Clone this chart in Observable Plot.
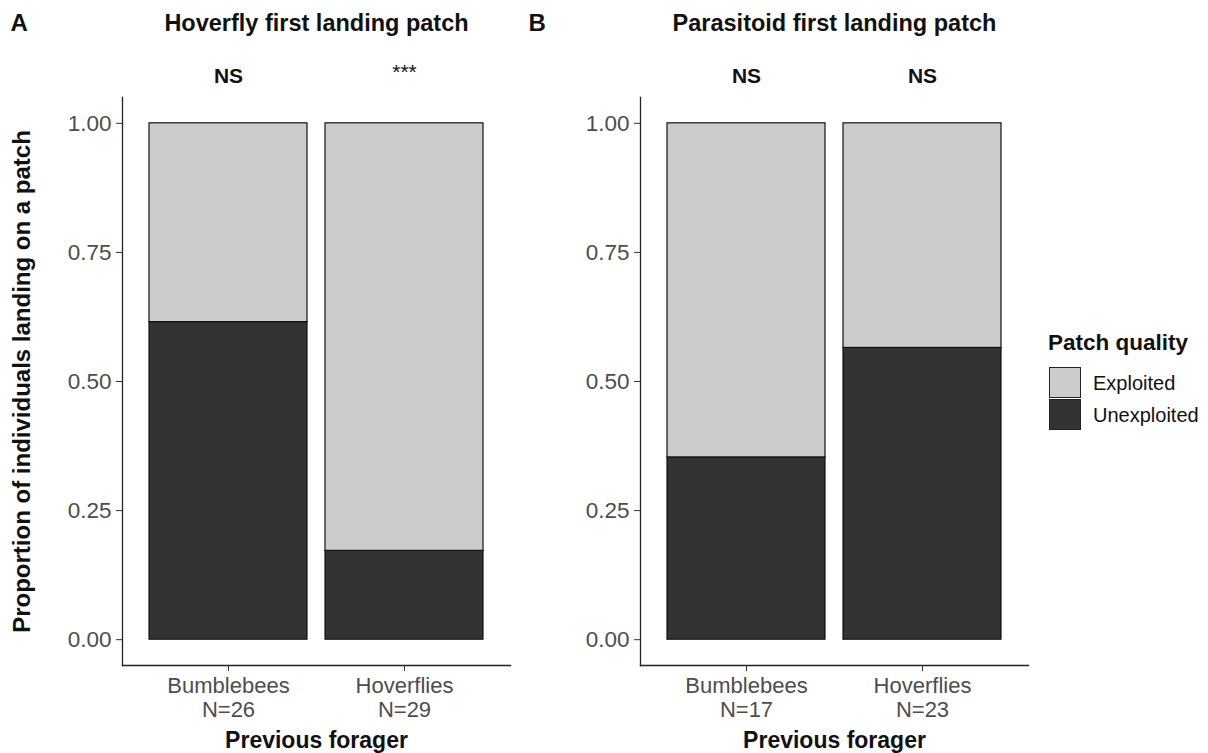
<!DOCTYPE html>
<html>
<head>
<meta charset="utf-8">
<script src="https://cdn.jsdelivr.net/npm/d3@7"></script>
<script src="https://cdn.jsdelivr.net/npm/@observablehq/plot@0.6"></script>
<style>
  html, body { margin: 0; padding: 0; background: #fff; }
  body { font-family: "Liberation Sans", Arial, sans-serif; }
  #wrap { position: relative; width: 1208px; height: 753px; overflow: hidden; background: #fff; }
  .panel { position: absolute; top: 0; }
  .legend { position: absolute; left: 1048px; top: 330px; width: 160px; height: 110px; }
  .legend .ttl { position: absolute; left: 0; top: 0; font-weight: bold; font-size: 22.5px; color: #111; line-height: 26px; white-space: nowrap; }
  .legend .key { position: absolute; left: 1px; width: 30px; height: 29px; border: 1px solid #222; }
  .legend .lab { position: absolute; left: 45px; font-size: 20px; color: #111; line-height: 24px; white-space: nowrap; }
</style>
</head>
<body>
<div id="wrap"></div>
<script>
// ---- data ----
const foragers = ["Bumblebees", "Hoverflies"];
const qualities = ["Exploited", "Unexploited"];
const qualityColors = ["#cccccc", "#333333"];

const hoverflyN = [26, 29];
const hoverflyUnexploited = [0.615, 0.172];
const hoverflyExploited = [0.385, 0.828];
const hoverflySig = ["NS", "***"];

const parasitoidN = [17, 23];
const parasitoidUnexploited = [0.353, 0.565];
const parasitoidExploited = [0.647, 0.435];
const parasitoidSig = ["NS", "NS"];

const yTicks = [0, 0.25, 0.5, 0.75, 1];
const yDomain = [-0.05, 1.05];

const wrap = document.getElementById("wrap");

function panel(cfg) {
  const rows = [];
  foragers.forEach((f, i) => {
    rows.push({forager: f, quality: "Unexploited", value: cfg.unexploited[i]});
    rows.push({forager: f, quality: "Exploited", value: cfg.exploited[i]});
  });
  const tickLabel = new Map(foragers.map((f, i) => [f, `${f}\nN=${cfg.n[i]}`]));
  const sigRows = foragers.map((f, i) => ({forager: f, sig: cfg.sig[i]}));
  const marks = [
    Plot.barY(rows, {x: "forager", y: "value", fill: "quality", stroke: "#111", strokeWidth: 1.2}),
    Plot.frame({anchor: "left", stroke: "#222", strokeWidth: 1.3}),
    Plot.frame({anchor: "bottom", stroke: "#222", strokeWidth: 1.3}),
    Plot.axisY(yTicks, {tickFormat: d => d.toFixed(2), tickSize: 6, tickPadding: 5, fontSize: 22.5, color: "#4d4d4d", stroke: "#333", label: null}),
    Plot.axisX({tickFormat: f => tickLabel.get(f), tickSize: 6, tickPadding: 4, fontSize: 22, lineHeight: 1.1, color: "#4d4d4d", stroke: "#333", label: null}),
    Plot.text(sigRows.filter(d => d.sig === "NS"), {x: "forager", text: "sig", frameAnchor: "top", lineAnchor: "middle", dy: -21, fontSize: 21, fontWeight: "bold", fill: "#111"}),
    Plot.text(sigRows.filter(d => d.sig !== "NS"), {x: "forager", text: "sig", frameAnchor: "top", lineAnchor: "middle", dy: -25, fontSize: 21, fill: "#111"}),
    Plot.text([cfg.title], {frameAnchor: "top", lineAnchor: "middle", textAnchor: "middle", dy: -74, fontSize: 23.5, fontWeight: "bold", fill: "#111"}),
    Plot.text([cfg.tag], {frameAnchor: "top-left", lineAnchor: "middle", textAnchor: "start", dx: -112, dy: -74, fontSize: 24, fontWeight: "bold", fill: "#111"}),
    Plot.text(["Previous forager"], {frameAnchor: "bottom", lineAnchor: "middle", textAnchor: "middle", dy: 75, fontSize: 23, fontWeight: "bold", fill: "#111"})
  ];
  if (cfg.yLabel) {
    marks.push(Plot.text([cfg.yLabel], {frameAnchor: "left", lineAnchor: "middle", textAnchor: "middle", dx: -100, rotate: -90, fontSize: 24, fontWeight: "bold", fill: "#111"}));
  }
  const svg = Plot.plot({
    width: 520,
    height: 753,
    marginLeft: 122,
    marginRight: 10,
    marginTop: 97,
    marginBottom: 88,
    style: {fontFamily: "'Liberation Sans', Arial, sans-serif", background: "transparent", overflow: "visible"},
    x: {domain: foragers, paddingInner: 0.1, paddingOuter: 0.15},
    y: {domain: yDomain},
    color: {domain: qualities, range: qualityColors},
    marks
  });
  svg.classList.add("panel");
  svg.style.left = cfg.left + "px";
  return svg;
}

wrap.appendChild(panel({
  left: 0, tag: "A", title: "Hoverfly first landing patch",
  n: hoverflyN, unexploited: hoverflyUnexploited, exploited: hoverflyExploited, sig: hoverflySig,
  yLabel: "Proportion of individuals landing on a patch"
}));
wrap.appendChild(panel({
  left: 518, tag: "B", title: "Parasitoid first landing patch",
  n: parasitoidN, unexploited: parasitoidUnexploited, exploited: parasitoidExploited, sig: parasitoidSig
}));

// legend
const legend = document.createElement("div");
legend.className = "legend";
const ttl = document.createElement("div");
ttl.className = "ttl";
ttl.textContent = "Patch quality";
legend.appendChild(ttl);
qualities.forEach((q, i) => {
  const key = document.createElement("div");
  key.className = "key";
  key.style.top = (37 + i * 32) + "px";
  key.style.background = qualityColors[i];
  legend.appendChild(key);
  const lab = document.createElement("div");
  lab.className = "lab";
  lab.style.top = (41 + i * 32) + "px";
  lab.textContent = q;
  legend.appendChild(lab);
});
wrap.appendChild(legend);
</script>
</body>
</html>
